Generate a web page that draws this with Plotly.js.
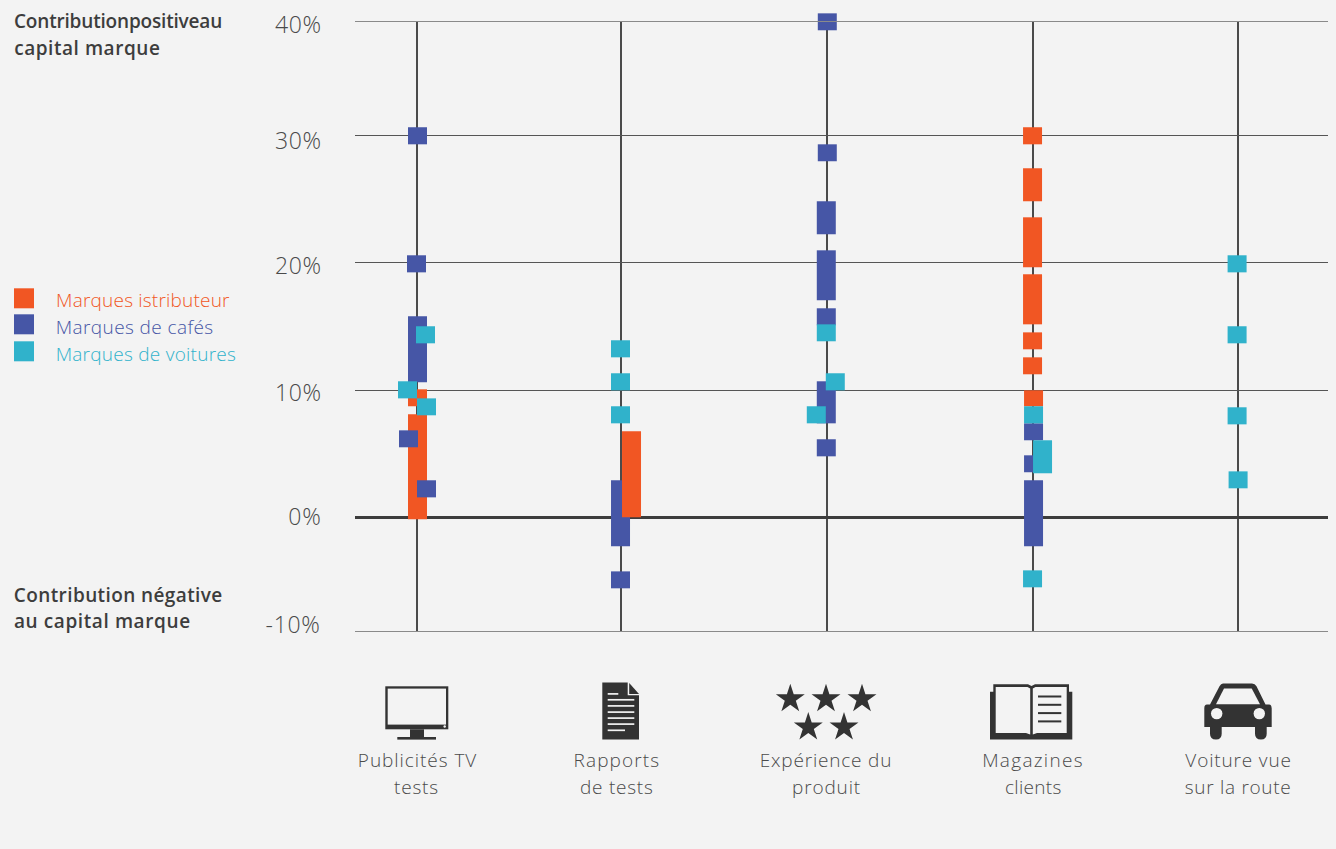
<!DOCTYPE html>
<html lang="fr">
<head>
<meta charset="utf-8">
<title>Contribution au capital marque</title>
<script src="https://cdn.plot.ly/plotly-3.0.1.min.js"></script>
<style>html,body{margin:0;padding:0;background:#f3f3f3;overflow:hidden}#chart{width:1336px;height:849px}</style>
</head>
<body>
<div id="chart"></div>
<script>
// ---- Data -------------------------------------------------------------
const categoryLine1 = ['Publicités TV', 'Rapports', 'Expérience du', 'Magazines', 'Voiture vue'];
const categoryLine2 = ['tests', 'de tests', 'produit', 'clients', 'sur la route'];
const categoryPos = [0, 0.994, 1.999, 2.999, 3.998];

const yTickLabels = ['40%', '30%', '20%', '10%', '0%', '-10%'];
const gridValues = [0, 10, 20, 30];

const orangeName = 'Marques istributeur';
const orangeCat  = [0, 0, 3, 3, 3, 3, 3, 3, 3];
const orangeLow  = [8.74, -0.13, 29.30, 24.83, 19.65, 15.17, 13.21, 11.25, 8.74];
const orangeHigh = [10.07, 8.11, 30.64, 27.42, 23.57, 19.10, 14.54, 12.58, 9.99];

const orangeTopCat  = [1];
const orangeTopLow  = [0.02];
const orangeTopHigh = [6.77];

const blueName = 'Marques de cafés';
const blueCat  = [0, 0, 0, 0, 0, 1, 1, 2, 2, 2, 2, 2, 2, 2, 3, 3, 3];
const blueLow  = [29.30, 19.25, 10.62, 5.52, 1.59, -2.25, -5.55, 38.25, 27.97, 22.24, 17.06, 15.09, 7.40, 4.81, 6.07, 3.56, -2.25];
const blueHigh = [30.64, 20.59, 15.80, 6.85, 2.93, 2.93, -4.22, 39.58, 29.30, 24.83, 20.98, 16.43, 10.70, 6.15, 7.40, 4.89, 2.93];

const cyanName = 'Marques de voitures';
const cyanCat  = [0, 0, 0, 1, 1, 1, 2, 2, 2, 3, 3, 3, 4, 4, 4, 4];
const cyanLow  = [13.68, 9.36, 8.03, 12.58, 9.99, 7.40, 13.84, 9.99, 7.40, 7.40, 3.48, -5.47, 19.25, 13.68, 7.32, 2.30];
const cyanHigh = [15.02, 10.70, 9.36, 13.92, 11.33, 8.74, 15.17, 11.33, 8.74, 8.74, 6.07, -4.14, 20.59, 15.02, 8.66, 3.63];

// ---- Placement and style (pixels) --------------------------------------
const orangeDodge = [0.5, 0.5, 0, 0, 0, 0, 0, 0, 1];
const orangeTopDodge = [10.5];
const blueDodge = [0.5, -0.5, 0.5, -8.5, 9.5, -0.5, -0.5, 0, 0, -1, -1, -1, -1, -1, 1, 1, 1];
const cyanDodge = [8.5, -9.5, 9.5, -0.5, -0.5, -0.5, -1, 8, -11, 1, 10, 0, -0.5, -0.5, -0.5, 0.5];

const BG = '#f3f3f3', INK = '#333333', TXT = '#4a4a4a', HEAD = '#3d3d3d';
const ORANGE = '#f15623', BLUE = '#4656a6', CYAN = '#30b2cb';
const FONT = '"Open Sans", Lato, sans-serif';
const L = 355, R = 1328, T = 21.7, B = 630.7;
const UNIT = 205.25, X0 = 417, BAR = 19;
const px2x = p => (p - L) / (R - L);
const px2y = p => (B - p) / (B - T);

function bars(name, cat, low, high, dodge, color) {
  return {
    type: 'bar', name, cliponaxis: false, showlegend: false,
    x: cat.map((c, i) => categoryPos[c] + dodge[i] / UNIT),
    base: low,
    y: high.map((h, i) => h - low[i]),
    width: BAR / UNIT,
    marker: {color, line: {width: 0}},
    hovertemplate: name + '<extra></extra>'
  };
}
const traces = [
  bars(orangeName, orangeCat, orangeLow, orangeHigh, orangeDodge, ORANGE),
  bars(blueName, blueCat, blueLow, blueHigh, blueDodge, BLUE),
  bars(cyanName, cyanCat, cyanLow, cyanHigh, cyanDodge, CYAN),
  bars(orangeName, orangeTopCat, orangeTopLow, orangeTopHigh, orangeTopDodge, ORANGE)
];

// ---- Text --------------------------------------------------------------
const annotations = [];
const textSpacing = [];
function label(text, px, py, anchor, size, color, weight, spacing) {
  const s = spacing || 0;
  // Annotation text is middle-anchored, so added spacing grows both edges equally.
  const grow = s * text.length / 2;
  const shift = anchor === 'left' ? grow : anchor === 'right' ? -grow : 0;
  annotations.push({
    text, xref: 'paper', yref: 'paper', x: px2x(px + shift), y: px2y(py),
    xanchor: anchor, yanchor: 'middle', showarrow: false, borderpad: 0, borderwidth: 0,
    font: {family: FONT, size, color, weight: weight || 300}
  });
  textSpacing.push(s);
}
const tickY = [24, 140, 265, 392, 516, 624];
const tickRight = [322, 322, 322, 322, 322, 320];
const catX1 = [417, 617, 826, 1033, 1238];
const catX2 = [416, 617, 826, 1033, 1238];
const cat1Spacing = [0.95, 1.1, 0.8, 1.3, 0.85];
const cat2Spacing = [0.8, 0.75, 0.85, 0.3, 0.7];
yTickLabels.forEach((t, i) => label(t, tickRight[i], tickY[i], 'right', 23, TXT, 300, 0.7));
categoryLine1.forEach((t, i) => label(t, catX1[i], 760, 'center', 19, TXT, 300, cat1Spacing[i]));
categoryLine2.forEach((t, i) => label(t, catX2[i], 787, 'center', 19, TXT, 300, cat2Spacing[i]));
label('Contributionpositiveau', 14, 21, 'left', 19, HEAD, 600, -0.18);
label('capital marque', 14, 48, 'left', 19, HEAD, 600, 0.55);
label('Contribution négative', 14, 595, 'left', 19, HEAD, 600, 0.4);
label('au capital marque', 14, 621, 'left', 19, HEAD, 600, 0.6);
label(orangeName, 56, 300, 'left', 19, ORANGE, 300, 0.2);
label(blueName, 56, 327, 'left', 19, BLUE, 300, 0.4);
label(cyanName, 56, 354, 'left', 19, CYAN, 300, 0.25);

// ---- Legend swatches ---------------------------------------------------
const swatchTop = [288, 314, 341];
const swatchColor = [ORANGE, BLUE, CYAN];
const shapes = swatchTop.map((t, i) => ({
  type: 'rect', xref: 'paper', yref: 'paper', layer: 'above',
  x0: px2x(14), x1: px2x(34), y0: px2y(t), y1: px2y(t + 20),
  fillcolor: swatchColor[i], line: {width: 0}
}));

// ---- Icons (drawn in page pixels) ---------------------------------------
function starPath(cx, cy, r) {
  let d = '';
  for (let i = 0; i < 10; i++) {
    const rr = i % 2 ? r * 0.382 : r, a = -Math.PI / 2 + i * Math.PI / 5;
    d += (i ? 'L' : 'M') + (cx + rr * Math.cos(a)).toFixed(2) + ',' + (cy + rr * Math.sin(a)).toFixed(2);
  }
  return d + 'Z';
}
const strokeLines = (ys, x0, x1, w) => ys.map(y =>
  `<rect x="${x0}" y="${y - w / 2}" width="${x1 - x0}" height="${w}" fill="${BG}"/>`).join('');
const icons = [
  {x: 380, y: 680, w: 75, h: 65, body: `
    <rect x="385.3" y="686" width="63" height="43" fill="${INK}"/>
    <rect x="387.7" y="688.3" width="58.3" height="36" fill="${BG}"/>
    <circle cx="444.7" cy="726.2" r="1.2" fill="${BG}"/>
    <rect x="410" y="729" width="14" height="8" fill="${INK}"/>
    <rect x="397.3" y="736.7" width="38.7" height="2.6" fill="${INK}"/>`},
  {x: 598, y: 678, w: 45, h: 65, body: `
    <path d="M602.3,682.3H627.7V695H639V739.3H602.3Z" fill="${INK}"/>
    <path d="M629.2,682.6L639,693.6H629.2Z" fill="${INK}"/>
    ${strokeLines([693.6], 607.7, 618.3, 1.7)}
    ${strokeLines([699.5, 705.6, 711.8, 717.8, 723.8], 607.7, 634.3, 1.7)}
    ${strokeLines([730], 607.7, 625, 1.7)}`},
  {x: 770, y: 680, w: 112, h: 62, body: `
    <path d="${starPath(790.3, 698.6, 15.2) + starPath(826, 698.6, 15.2) + starPath(862, 698.6, 15.2) + starPath(808.3, 727, 15.2) + starPath(844, 727, 15.2)}" fill="${INK}"/>`},
  {x: 985, y: 680, w: 92, h: 63, body: `
    <path fill-rule="evenodd" fill="${INK}" d="M990,691.5H993.3V684H1028L1031.5,685.6L1035,684H1069V691.5H1072.3V739.3H990Z
      M995.7,686.7V732.7H1026L1030.2,734.2V688.2L1027.5,686.7Z
      M1032.8,688.2V734.2L1037,732.7H1066.7V686.7H1035.5Z"/>
    <rect x="1038" y="695.2" width="23.3" height="2" fill="${INK}"/>
    <rect x="1038" y="703.5" width="23.3" height="2" fill="${INK}"/>
    <rect x="1038" y="711.8" width="23.3" height="2" fill="${INK}"/>
    <rect x="1038" y="720.1" width="23.3" height="2" fill="${INK}"/>`},
  {x: 1200, y: 678, w: 76, h: 66, body: `
    <path fill="${INK}" d="M1223,683.3H1252Q1255,683.3 1256.5,686L1265.5,704.3H1269Q1271.7,704.3 1271.7,708V726.7H1266.7V733.5Q1266.7,739.3 1261,739.3Q1255,739.3 1255,733.5V726.7H1221.7V733.5Q1221.7,739.3 1216,739.3Q1210,739.3 1210,733.5V726.7H1204.3V708Q1204.3,704.3 1207,704.3H1210L1219.5,686Q1221,683.3 1223,683.3Z"/>
    <path fill="${BG}" d="M1224,688.3H1251.7L1260,704H1216Z"/>
    <circle cx="1216.7" cy="713.3" r="5.7" fill="${BG}"/>
    <circle cx="1259.3" cy="713.3" r="5.7" fill="${BG}"/>`}
];
const images = icons.map(ic => ({
  source: 'data:image/svg+xml;charset=utf-8,' + encodeURIComponent(
    `<svg xmlns="http://www.w3.org/2000/svg" width="${ic.w}" height="${ic.h}" viewBox="${ic.x} ${ic.y} ${ic.w} ${ic.h}">${ic.body}</svg>`),
  xref: 'paper', yref: 'paper',
  x: px2x(ic.x), y: px2y(ic.y),
  sizex: ic.w / (R - L), sizey: ic.h / (B - T),
  xanchor: 'left', yanchor: 'top', sizing: 'stretch', layer: 'above'
}));

// ---- Layout ------------------------------------------------------------
const layout = {
  width: 1336, height: 849,
  autosize: false,
  margin: {l: L, r: 1336 - R, t: T, b: 849 - B, pad: 0},
  paper_bgcolor: BG, plot_bgcolor: BG,
  barmode: 'overlay',
  showlegend: false,
  hovermode: false,
  xaxis: {
    range: [(L - X0) / UNIT, (R - X0) / UNIT],
    tickmode: 'array', tickvals: categoryPos, showticklabels: false, ticks: '',
    showgrid: true, gridcolor: '#4a4a4a', gridwidth: 1.6, zeroline: false,
    showline: true, mirror: true, linecolor: '#8a8a8a', linewidth: 1, fixedrange: true
  },
  yaxis: {
    range: [-8.9, 38.9],
    tickmode: 'array', tickvals: gridValues, showticklabels: false, ticks: '',
    showgrid: true, gridcolor: '#555555', gridwidth: 1,
    zeroline: true, zerolinecolor: '#3c3c3c', zerolinewidth: 3,
    showline: false, fixedrange: true
  },
  annotations, shapes, images
};
Plotly.newPlot('chart', traces, layout, {displayModeBar: false, responsive: false}).then(() => {
  // The top mark straddles the plot edge, so its bar must not be cut at the axis.
  document.querySelectorAll('.bars path').forEach(p => p.removeAttribute('clip-path'));
  // Plotly has no letter-spacing option; the reference face is wider than the fonts at hand.
  document.querySelectorAll('.annotation-text').forEach((t, i) => {
    t.style.letterSpacing = textSpacing[i] + 'px';
  });
});
</script>
</body>
</html>
